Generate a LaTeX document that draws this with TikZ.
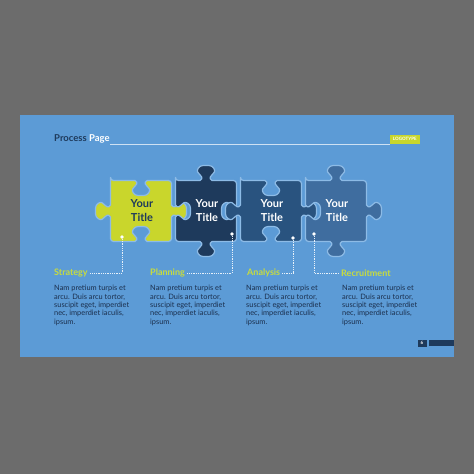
\documentclass[tikz,border=0pt]{standalone}
\usepackage{fontspec}
\setmainfont{Lato}

\definecolor{greybg}{HTML}{6C6C6C}
\definecolor{slide}{HTML}{5C9BD6}
\definecolor{lime}{HTML}{C9D62C}
\definecolor{navyA}{HTML}{1E3A5C}
\definecolor{navyB}{HTML}{29537F}
\definecolor{navyC}{HTML}{3F6D9F}
\definecolor{rim}{HTML}{8DBBE6}
\definecolor{ink}{HTML}{1B2F4D}
\definecolor{labgreen}{HTML}{C8DC3E}

% one side of a piece, drawn along x, tab sign #1 (1 out, -1 in)
\newcommand\jigside[1]{%
  -- (21.5pt,0pt) .. controls (26.5pt,0pt) and (26.5pt,#1*3pt) .. (24.5pt,#1*6pt)
  .. controls (20.5pt,#1*10pt) and (23.5pt,#1*15pt) .. (30.5pt,#1*15pt)
  .. controls (37.5pt,#1*15pt) and (40.5pt,#1*10pt) .. (36.5pt,#1*6pt)
  .. controls (34.5pt,#1*3pt) and (34.5pt,0pt) .. (39.5pt,0pt)
  -- (61pt,0pt)}

% whole piece: centre x, centre y, top, right, bottom, left, colour
\newcommand\jigpiece[7]{%
  \filldraw [piece, fill = #7] (#1-30.5, #2-30.5)
    {[shift = {(#1-30.5, #2-30.5)}] \jigside{#3}}
    {[shift = {(#1+30.5, #2-30.5)}, rotate = -90] \jigside{#4}}
    {[shift = {(#1+30.5, #2+30.5)}, rotate = 180] \jigside{#5}}
    {[shift = {(#1-30.5, #2+30.5)}, rotate = 90] \jigside{#6}}
    -- cycle;}

\begin{document}
\begin{tikzpicture}[x = 1pt, y = -1pt,
	piece/.style = {draw = rim, line width = 1.2pt, line join = round, rounded corners = 3pt},
	ttl/.style = {align = center, inner sep = 0, font = \fontsize{11}{14}\selectfont\bfseries},
	lab/.style = {anchor = west, inner sep = 0, text = labgreen, font = \fontsize{9}{10}\selectfont\bfseries},
	para/.style = {anchor = north west, align = left, inner sep = 0, text = ink, font = \fontsize{7.4}{8.4}\selectfont},
	dotmark/.style = {circle, fill = white, inner sep = 0, minimum size = 3.6pt},
	leader/.style = {draw = white!85!slide, densely dotted, line width = 0.8pt, shorten > = 2pt}]

	% Background and slide
	
	\useasboundingbox (0, 0) rectangle (474, 474);
	\fill [greybg] (0, 0) rectangle (474, 474);
	\fill [slide] (20, 115) rectangle (454, 357);
	
	% Header
	
	\node [anchor = base west, inner sep = 0, font = \fontsize{9.5}{11}\selectfont\bfseries] (hdr) at (54, 141)
		{\textcolor{navyA}{Process} \textcolor{white}{Page}};
	\node [anchor = south east, fill = lime, inner sep = 0, minimum width = 30pt, minimum height = 9pt,
		text = white, font = \fontsize{4.5}{5}\selectfont\bfseries] (logo) at (420, 144) {LOGOTYPE};
	\draw [white!70!slide, line width = 0.4pt] (hdr.south east |- logo.south) -- (logo.south west);
	
	% Puzzle pieces
	
	\jigpiece{141}{211}{-1}{1}{-1}{1}{lime}
	\jigpiece{206}{211}{1}{-1}{1}{-1}{navyA}
	\jigpiece{271}{211}{-1}{1}{-1}{1}{navyB}
	\jigpiece{336}{211}{1}{1}{1}{-1}{navyC}
	
	\node [ttl, text = navyA] (t1) at (142, 211) {Your\\Title};
	\node [ttl, text = white] (t2) at (207, 211) {Your\\Title};
	\node [ttl, text = white] (t3) at (272, 211) {Your\\Title};
	\node [ttl, text = white] (t4) at (337, 211) {Your\\Title};
	
	% Marked points and leaders
	
	\node [dotmark] (d1) at (122, 237) {};
	\node [dotmark] (d2) at (232, 234) {};
	\node [dotmark] (d3) at (293, 238) {};
	\node [dotmark] (d4) at (314, 234) {};
	
	\node [lab] (s1) at (54, 273) {Strategy};
	\node [lab] (s2) at (150, 273) {Planning};
	\node [lab] (s3) at (247, 273) {Analysis};
	\node [lab] (s4) at (341, 273) {Recruitment};
	
	\draw [leader] (d1) |- (s1);
	\draw [leader] (d2) |- (s2);
	\draw [leader] (d3) |- (s3);
	\draw [leader] (d4) |- (s4);
	
	% Texts
	
	\node [para] (p1) at (54, 285) {Nam pretium turpis et\\arcu. Duis arcu tortor,\\suscipit eget, imperdiet\\nec, imperdiet iaculis,\\ipsum.};
	\node [para] (p2) at (150, 285) {Nam pretium turpis et\\arcu. Duis arcu tortor,\\suscipit eget, imperdiet\\nec, imperdiet iaculis,\\ipsum.};
	\node [para] (p3) at (246, 285) {Nam pretium turpis et\\arcu. Duis arcu tortor,\\suscipit eget, imperdiet\\nec, imperdiet iaculis,\\ipsum.};
	\node [para] (p4) at (342, 285) {Nam pretium turpis et\\arcu. Duis arcu tortor,\\suscipit eget, imperdiet\\nec, imperdiet iaculis,\\ipsum.};
	
	% Page number
	
	\node [fill = navyA, inner sep = 0, minimum width = 9pt, minimum height = 7pt, text = white,
		font = \fontsize{4.5}{5}\selectfont\bfseries] (num) at (422, 343) {6};
	\fill [navyA] (429, 340) rectangle (454, 346);

\end{tikzpicture}
\end{document}
